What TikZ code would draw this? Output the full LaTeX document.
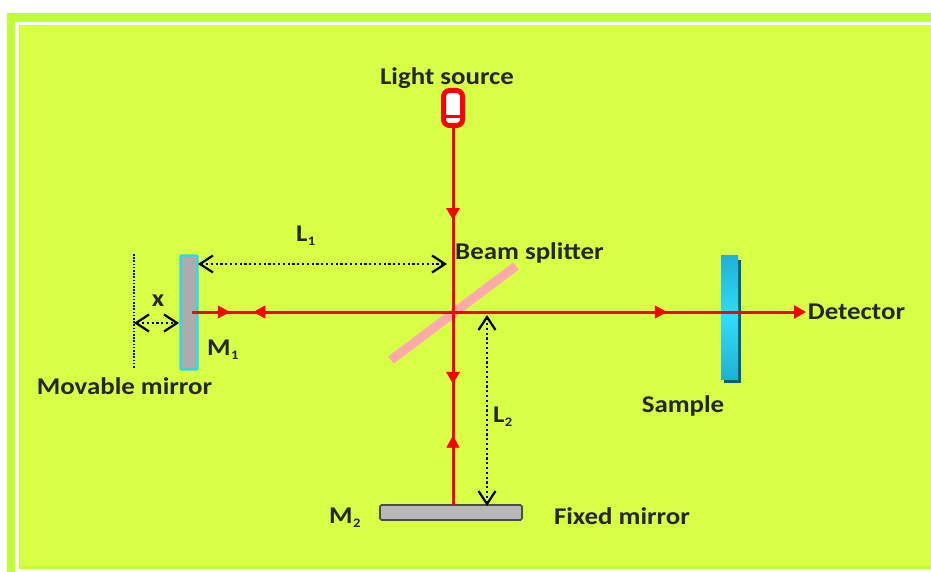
\documentclass[tikz,border=0pt]{standalone}
\usepackage{fontspec}
\setmainfont[FakeStretch=1.12]{Carlito}
\usepackage{tikz}
\usetikzlibrary{arrows.meta,decorations.markings}
\definecolor{limeback}{RGB}{214,255,69}
\definecolor{limeband}{RGB}{192,255,50}
\definecolor{sampleblue}{RGB}{32,176,212}
\definecolor{samplelight}{RGB}{50,220,250}
\definecolor{sampledark}{RGB}{10,95,120}
\definecolor{mirrorgray}{RGB}{172,172,172}
\definecolor{mirroredge}{RGB}{40,215,250}
\definecolor{splitterpink}{RGB}{255,170,170}
\tikzset{
  beamhead/.tip={Triangle[length=12pt,width=13pt]},
  spanhead/.tip={Straight Barb[length=13pt,width=17pt,line width=2.2pt]},
  beam/.style={draw=red,line width=3pt},
  beamtip/.style={red,postaction={decorate,decoration={markings,
    mark=at position #1 with {\arrow{beamhead}}}}},
  beamback/.style={red,postaction={decorate,decoration={markings,
    mark=at position #1 with {\arrowreversed{beamhead}}}}},
  span/.style={line width=2.4pt,dash pattern=on 2.2pt off 2.6pt,spanhead-spanhead},
  partlabel/.style={font=\fontsize{24}{26}\selectfont\bfseries,text=black!85,inner sep=0pt},
  sublabel/.style={font=\fontsize{13}{14}\selectfont\bfseries,text=black!85,inner sep=0pt}
}
\begin{document}
\begin{tikzpicture}[x=1pt,y=-1pt]
  \useasboundingbox (0,0) rectangle (931,572);
  \fill[white] (0,0) rectangle (931,572);
  \fill[limeband] (7,13) rectangle (931,572);
  \fill[white] (15,22) rectangle (931,572);
  \fill[limeband] (19,25) rectangle (931,569);
  \fill[limeback] (20,26) rectangle (931,566);
  % mirrors and sample
  \node[draw=mirroredge,fill=mirrorgray,line width=2.2pt,rounded corners=1pt,minimum width=17pt,minimum height=114pt,inner sep=0pt] (mirrorA) at (189,312.5) {};
  \node[draw=black!70,fill=mirrorgray!85!white,line width=1.6pt,rounded corners=1.5pt,minimum width=142pt,minimum height=15pt,inner sep=0pt] (mirrorB) at (451,512.5) {};
  \fill[sampledark] (724,260) rectangle (741,383);
  \node[top color=sampleblue,bottom color=sampleblue,middle color=samplelight,minimum width=17pt,minimum height=124pt,inner sep=0pt] (sample) at (729.5,317) {};
  % beam splitter
  \draw[splitterpink,line width=9pt] (391,360) -- (516,266);
  % light source
  \node[draw=red,fill=white,line width=5pt,rounded corners=6pt,minimum width=19pt,minimum height=35pt,inner sep=0pt] (source) at (453,108) {};
  \draw[red,line width=2.5pt] (source.west |- 0,116.5) -- (source.east |- 0,116.5);
  \coordinate (centre) at (453,312);
  \coordinate (mirrorAhit) at (192,312);
  \coordinate (mirrorBhit) at (453,505);
  \coordinate (detector) at (806,312);
  % beams
  \draw[beam,beamtip=0.5] (source.south) -- (centre);
  \draw[beam,beamtip=0.373] (centre) -- (mirrorBhit);
  \path[beamback=0.64] (centre) -- (mirrorBhit);
  \draw[beam] (mirrorAhit) -- (centre);
  \path[beamtip=0.145] (mirrorAhit) -- (centre);
  \path[beamback=0.235] (mirrorAhit) -- (centre);
  \draw[beam,-beamhead] (centre) -- (detector);
  \path[beamtip=0.606] (centre) -- (detector);
  % path lengths
  \coordinate (lengthAleft) at (198,264);
  \coordinate (lengthAright) at (447,264);
  \coordinate (lengthBtop) at (487,315);
  \coordinate (lengthBbottom) at (487,506);
  \coordinate (travelLeft) at (134,323);
  \coordinate (travelRight) at (179,323);
  \coordinate (travelTop) at (134,254);
  \coordinate (travelBottom) at (134,369);
  \draw[span] (lengthAleft) -- (lengthAright);
  \draw[span] (lengthBtop) -- (lengthBbottom);
  \draw[span] (travelLeft) -- (travelRight);
  \draw[line width=1.6pt,dash pattern=on 1.6pt off 1.6pt] (travelTop) -- (travelBottom);
  % labels
  \node[partlabel] (sourcetext) at (447,78) {Light source};
  \node[partlabel] (splittertext) at (529.5,252.5) {Beam splitter};
  \node[partlabel] (detectortext) at (856.5,312) {Detector};
  \node[partlabel] (sampletext) at (683,405.5) {Sample};
  \node[partlabel] (movabletext) at (124.5,386) {Movable mirror};
  \node[partlabel] (fixedtext) at (622,516) {Fixed mirror};
  \node[partlabel] (travelText) at (158,301) {x};
  \node[partlabel,anchor=west] (lengthAtext) at (296,234) {L};
  \node[sublabel,anchor=west] (lengthAsub) at (lengthAtext.east) [yshift=-7pt] {1};
  \node[partlabel,anchor=west] (lengthBtext) at (493,415) {L};
  \node[sublabel,anchor=west] (lengthBsub) at (lengthBtext.east) [yshift=-7pt] {2};
  \node[partlabel,anchor=west] (mirrorAtext) at (207,348) {M};
  \node[sublabel,anchor=west] (mirrorAsub) at (mirrorAtext.east) [yshift=-7pt] {1};
  \node[partlabel,anchor=west] (mirrorBtext) at (329,516) {M};
  \node[sublabel,anchor=west] (mirrorBsub) at (mirrorBtext.east) [yshift=-7pt] {2};
\end{tikzpicture}
\end{document}
